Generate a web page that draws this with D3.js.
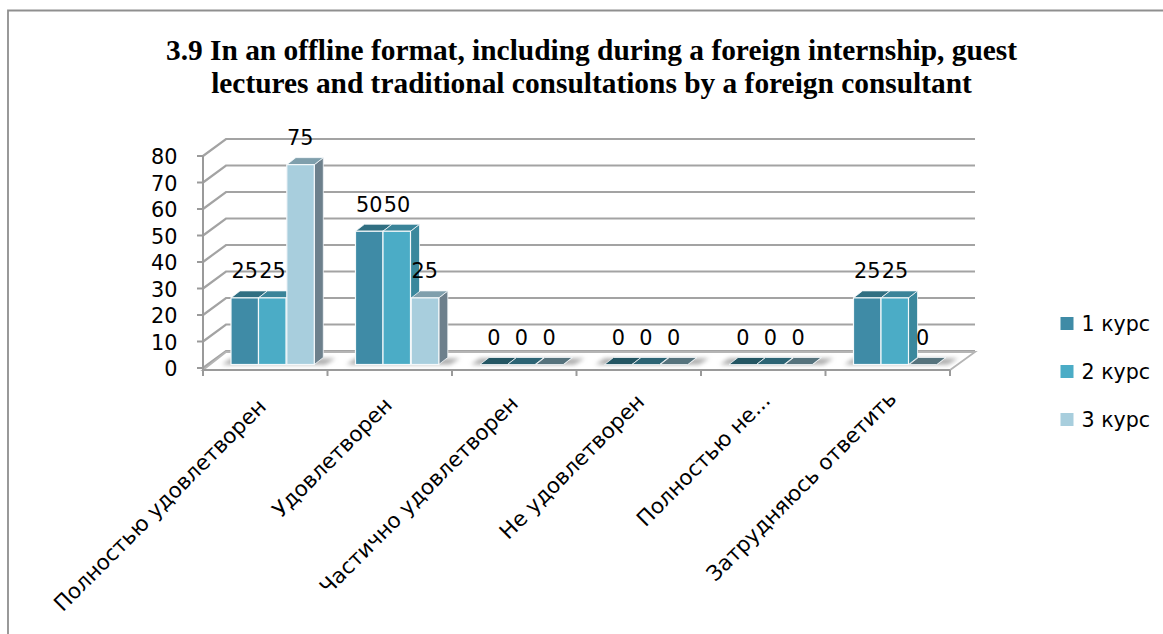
<!DOCTYPE html>
<html><head><meta charset="utf-8">
<script src="https://cdn.jsdelivr.net/npm/d3@7/dist/d3.min.js"></script>
<style>html,body{margin:0;padding:0;background:#fff}svg{display:block}</style></head>
<body><svg id="c" width="1163" height="634"></svg>
<script>
const categories=["Полностью удовлетворен","Удовлетворен","Частично удовлетворен","Не удовлетворен","Полностью не...","Затрудняюсь ответить"];
const seriesNames=["1 курс","2 курс","3 курс"];
const course1=[25,50,0,0,0,25];
const course2=[25,50,0,0,0,25];
const course3=[75,25,0,0,0,0];
const yTicks=[0,10,20,30,40,50,60,70,80];
const titleLines=["3.9 In an offline format, including during a foreign internship, guest","lectures and traditional consultations by a foreign consultant"];
const fronts=["#3f8ba6","#4bacc6","#a8cedd"],sides=["#326e84","#3b889d","#6d808c"],tops=["#306f82","#3a8499","#7f9fac"];
const zeroTop=["#245663","#2c6474","#56737d"];
const values=[course1,course2,course3];
const svg=d3.select("#c");
const sans="'DejaVu Sans',sans-serif",fs=20.8;
const defs=svg.append("defs");
defs.append("filter").attr("id","blur").attr("x","-20%").attr("y","-100%").attr("width","140%").attr("height","300%")
 .append("feGaussianBlur").attr("stdDeviation",2);
svg.append("path").attr("d","M8,634V10.5H1163").attr("fill","none").attr("stroke","#8f8f8f").attr("stroke-width",1.8);
svg.append("g").selectAll("text").data(titleLines).join("text")
 .attr("x",591.5).attr("y",(d,i)=>60+i*33).attr("text-anchor","middle")
 .attr("font-family","'Liberation Serif',serif").attr("font-weight","bold").attr("font-size",29.4).attr("fill","#000").text(d=>d);
const x=d3.scaleBand().domain(categories).range([203,950]).paddingInner(0).paddingOuter(0);
const y=d3.scaleLinear().domain([0,80]).range([368,156]);
const dx=23,dy=-17;
const grid=svg.append("g").attr("fill","none").attr("stroke","#a3a3a3").attr("stroke-width",2.2);
yTicks.forEach(t=>{
 grid.append("path").attr("d",`M${203},${y(t)}L${203+dx},${y(t)+dy}H${950+dx+2}`);
});
svg.append("path").attr("d",`M203,${y(0)+2}L${203+dx},${y(0)+dy+1}H975L950,${y(0)+2}Z`).attr("fill","#fff").attr("stroke","#b5b5b5").attr("stroke-width",1.8);
const axisG=svg.append("g").attr("fill","none").attr("stroke","#9a9a9a").attr("stroke-width",2);
axisG.append("path").attr("d",`M203,${y(80)}V${y(0)+8}`);
axisG.append("path").attr("d",`M203,${y(0)+2}H950`);
yTicks.forEach(t=>axisG.append("path").attr("d",`M197,${y(t)}H203`));
[...categories.map(c=>x(c)),950].forEach(v=>axisG.append("path").attr("d",`M${v},${y(0)+2}V${y(0)+8}`));
svg.append("g").selectAll("text").data(yTicks).join("text").attr("x",177.5).attr("y",d=>y(d)+8).attr("text-anchor","end")
 .attr("font-family",sans).attr("font-size",fs).text(d=>d);
const bw=27.5,base=364.5,ky=2.665,bd=9,bdy=-7;
const hy=d3.scaleLinear().domain([0,80]).range([base,base-80*ky]);
const bars=svg.append("g");
categories.forEach((c,ci)=>{
 const x0=x(c)+28;
 bars.append("path").attr("d",`M${x0-9},${base}H${x0+3*bw+12}L${x0+3*bw+22},${base-6}H${x0+3*bw}L${x0},${base-6}Z`).attr("fill","#aaa").attr("filter","url(#blur)");
 [0,1,2].forEach(si=>{
  const v=values[si][ci],bx=x0+si*bw+(si==2?.8:0),t=hy(v);
  const g=bars.append("g").datum(v);
  g.append("path").attr("d",`M${bx+bw},${t}l${bd},${bdy}V${base+bdy}l${-bd},${-bdy}Z`).attr("fill",sides[si]).attr("stroke","#f4f8fa").attr("stroke-width",.8);
  g.append("path").attr("d",`M${bx},${t}l${bd},${bdy}h${bw}l${-bd},${-bdy}Z`).attr("fill",v===0?zeroTop[si]:tops[si]).attr("stroke","#f4f8fa").attr("stroke-width",.8);
  if(v>0) g.append("rect").attr("x",bx).attr("y",t).attr("width",bw).attr("height",base-t).attr("fill",fronts[si]).attr("stroke","#f4f8fa").attr("stroke-width",1.2);
 });
});
const labels=svg.append("g").attr("font-family",sans).attr("font-size",fs).attr("text-anchor","middle").attr("fill","#000");
categories.forEach((c,ci)=>{
 const x0=x(c)+28;
 [0,1,2].forEach(si=>{
  const v=values[si][ci];
  labels.append("text").attr("x",x0+si*bw+bw/2+(si*0.2)).attr("y",hy(v)-19.5).text(v);
 });
});
svg.append("g").selectAll("text").data(categories).join("text")
 .attr("transform",(c,i)=>`translate(${x(c)+x.bandwidth()/2+2+i*1.6},${y(0)+40-i*1.6}) rotate(-45)`)
 .attr("text-anchor","end").attr("font-family",sans).attr("font-size",21.3).text(d=>d);
const ly=[323.5,371.5,419.5];
const lg=svg.append("g").selectAll("g").data(seriesNames).join("g").attr("transform",(d,i)=>`translate(1060.5,${ly[i]})`);
lg.append("rect").attr("x",0).attr("y",-6.5).attr("width",13).attr("height",13).attr("fill",(d,i)=>fronts[i]);
lg.append("text").attr("x",21).attr("y",7.5).attr("font-family",sans).attr("font-size",20.6).text(d=>d);
</script></body></html>
